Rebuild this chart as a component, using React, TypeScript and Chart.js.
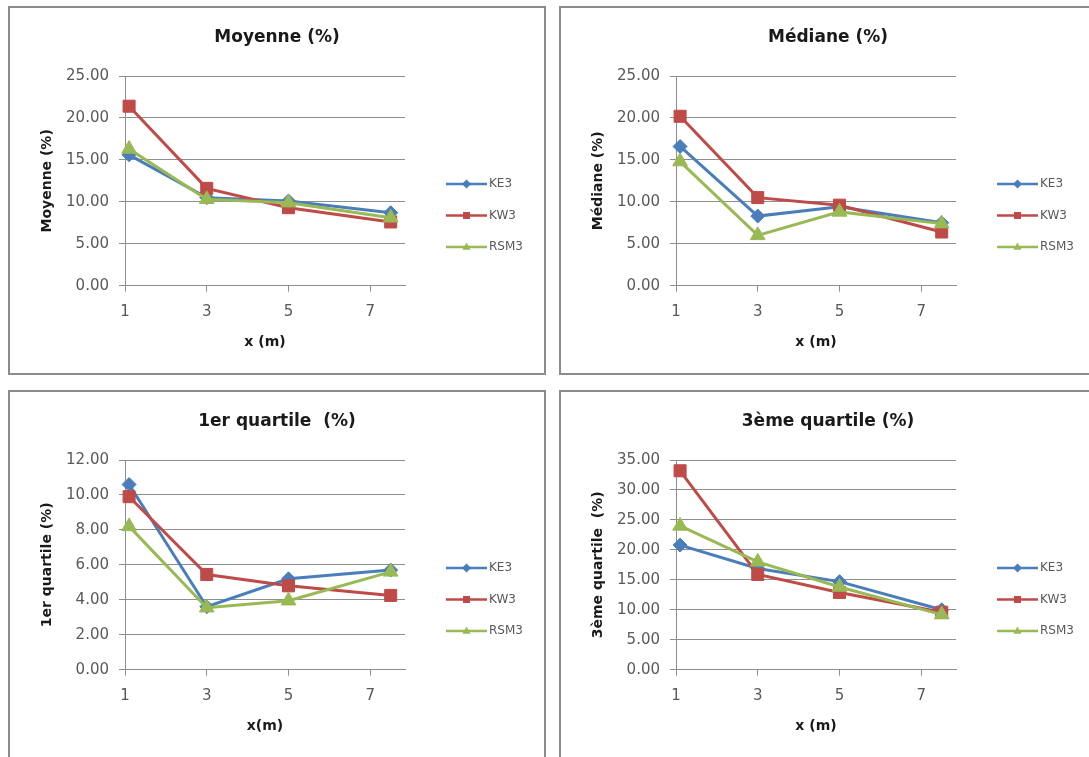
import React, { useEffect, useRef } from 'react';
import { Chart, registerables } from 'chart.js';

Chart.register(...registerables);

// ---- data ----
const xValues = [1.1, 3, 5, 7.5];
const xTickValues = [1, 3, 5, 7];
const seriesNames = ['KE3', 'KW3', 'RSM3'];

const moyenneKE3 = [15.6, 10.5, 10.1, 8.7];
const moyenneKW3 = [21.4, 11.6, 9.3, 7.6];
const moyenneRSM3 = [16.3, 10.3, 9.9, 8.1];

const medianeKE3 = [16.6, 8.3, 9.4, 7.5];
const medianeKW3 = [20.2, 10.5, 9.6, 6.4];
const medianeRSM3 = [14.8, 6.0, 8.8, 7.4];

const q1KE3 = [10.6, 3.6, 5.2, 5.7];
const q1KW3 = [9.9, 5.45, 4.8, 4.25];
const q1RSM3 = [8.2, 3.55, 3.95, 5.6];

const q3KE3 = [20.8, 16.9, 14.7, 10.0];
const q3KW3 = [33.2, 15.9, 12.9, 9.6];
const q3RSM3 = [24.0, 18.0, 13.8, 9.2];

// ---- styles ----
const seriesColors = ['#4A7EBB', '#BE4B48', '#98B954'];
const seriesMarkers = ['rectRot', 'rect', 'triangle'];
const markerRadius = [7, 8.5, 8.5];
const FONT = "'DejaVu Sans', sans-serif";
const GRID = '#8e8e8e';
const TICK_COLOR = '#595959';
const TITLE_COLOR = '#1a1a1a';

const CW = 534;
const CH = 365;

type PanelSpec = {
  title: string;
  yTitle: string;
  xTitle: string;
  yMax: number;
  yStep: number;
  series: number[][];
  left: number;
  top: number;
};

const panels: PanelSpec[] = [
  { title: 'Moyenne (%)', yTitle: 'Moyenne (%)', xTitle: 'x (m)', yMax: 25, yStep: 5, series: [moyenneKE3, moyenneKW3, moyenneRSM3], left: 8, top: 6 },
  { title: 'Médiane (%)', yTitle: 'Médiane (%)', xTitle: 'x (m)', yMax: 25, yStep: 5, series: [medianeKE3, medianeKW3, medianeRSM3], left: 559, top: 6 },
  { title: '1er quartile  (%)', yTitle: '1er quartile (%)', xTitle: 'x(m)', yMax: 12, yStep: 2, series: [q1KE3, q1KW3, q1RSM3], left: 8, top: 390 },
  { title: '3ème quartile (%)', yTitle: '3ème quartile  (%)', xTitle: 'x (m)', yMax: 35, yStep: 5, series: [q3KE3, q3KW3, q3RSM3], left: 559, top: 390 },
];

function drawMarker(ctx: CanvasRenderingContext2D, style: string, x: number, y: number, r: number) {
  ctx.beginPath();
  if (style === 'rect') {
    ctx.rect(x - r, y - r, 2 * r, 2 * r);
  } else if (style === 'rectRot') {
    ctx.moveTo(x, y - r);
    ctx.lineTo(x + r, y);
    ctx.lineTo(x, y + r);
    ctx.lineTo(x - r, y);
    ctx.closePath();
  } else {
    ctx.moveTo(x, y - r);
    ctx.lineTo(x + r * 0.9, y + r * 0.6);
    ctx.lineTo(x - r * 0.9, y + r * 0.6);
    ctx.closePath();
  }
  ctx.fill();
}

const panelDecor = {
  id: 'panelDecor',
  afterDraw(chart: any, _args: any, opts: any) {
    const ctx: CanvasRenderingContext2D = chart.ctx;
    ctx.save();
    ctx.font = `bold 17px ${FONT}`;
    ctx.fillStyle = TITLE_COLOR;
    ctx.textAlign = 'center';
    ctx.textBaseline = 'middle';
    ctx.fillText(opts.title, opts.titleX, opts.titleY);

    chart.data.datasets.forEach((ds: any, i: number) => {
      const y = opts.legendY + i * opts.legendGap;
      ctx.strokeStyle = seriesColors[i];
      ctx.lineWidth = 2.5;
      ctx.beginPath();
      ctx.moveTo(opts.legendX0, y);
      ctx.lineTo(opts.legendX1, y);
      ctx.stroke();
      ctx.fillStyle = seriesColors[i];
      const mx = (opts.legendX0 + opts.legendX1) / 2;
      const ms = seriesMarkers[i];
      drawMarker(ctx, ms, mx, y, ms === 'rect' ? 3.5 : 4.5);
      ctx.fillStyle = TICK_COLOR;
      ctx.font = `12px ${FONT}`;
      ctx.textAlign = 'left';
      ctx.textBaseline = 'middle';
      ctx.fillText(ds.label, opts.legendX1 + 2, y);
    });
    ctx.restore();
  },
};

function Panel({ spec }: { spec: PanelSpec }) {
  const ref = useRef<HTMLCanvasElement | null>(null);
  useEffect(() => {
    if (!ref.current) return;
    const datasets = spec.series.map((vals, i) => ({
      label: seriesNames[i],
      data: vals.map((v, j) => ({ x: xValues[j], y: v })),
      borderColor: seriesColors[i],
      backgroundColor: seriesColors[i],
      borderWidth: 3,
      pointStyle: seriesMarkers[i],
      pointRadius: markerRadius[i],
      pointBorderWidth: 1,
      pointBorderColor: seriesColors[i],
      pointBackgroundColor: seriesColors[i],
      tension: 0,
      order: 2 - i,
      clip: false,
    }));
    const chart = new Chart(ref.current, {
      type: 'line',
      data: { datasets },
      plugins: [panelDecor],
      options: {
        animation: false,
        responsive: false,
        devicePixelRatio: 1,
        layout: { padding: { left: 0, right: 139, top: 68, bottom: 0 } },
        plugins: {
          legend: { display: false },
          tooltip: { enabled: false },
          title: { display: false },
          panelDecor: {
            title: spec.title,
            titleX: 267,
            titleY: 30,
            legendX0: 436,
            legendX1: 477,
            legendY: 176,
            legendGap: 31.5,
          },
        } as any,
        scales: {
          x: {
            type: 'linear',
            min: 1,
            max: 7.85,
            afterBuildTicks: (s: any) => {
              s.ticks = xTickValues.map((v) => ({ value: v }));
            },
            afterFit: (s: any) => {
              s.height = 87.3;
            },
            grid: { display: true, drawOnChartArea: false, drawTicks: true, tickLength: 6, color: GRID, lineWidth: 1 },
            border: { display: true, color: GRID, width: 1 },
            ticks: {
              font: { family: FONT, size: 15 },
              color: TICK_COLOR,
              padding: 11,
              maxRotation: 0,
              autoSkip: false,
              callback: (v: any) => String(v),
            },
            title: {
              display: true,
              text: spec.xTitle,
              font: { family: FONT, size: 14, weight: 'bold' },
              color: TITLE_COLOR,
              padding: { top: 0, bottom: 22.6 },
            },
          },
          y: {
            min: 0,
            max: spec.yMax,
            afterFit: (s: any) => {
              s.width = 115;
            },
            grid: { color: GRID, lineWidth: 1, drawTicks: true, tickLength: 6 },
            border: { display: true, color: GRID, width: 1 },
            ticks: {
              stepSize: spec.yStep,
              font: { family: FONT, size: 15 },
              color: TICK_COLOR,
              padding: 10,
              callback: (v: any) => Number(v).toFixed(2),
            },
            title: {
              display: true,
              text: spec.yTitle,
              font: { family: FONT, size: 14, weight: 'bold' },
              color: TITLE_COLOR,
              padding: { top: 28.6, bottom: 0 },
            },
          },
        },
      } as any,
    });
    return () => chart.destroy();
  }, [spec]);

  return (
    <div
      style={{
        position: 'absolute',
        left: spec.left,
        top: spec.top,
        width: CW,
        height: CH,
        border: '2px solid #8c8c8c',
        background: '#fff',
      }}
    >
      <canvas ref={ref} width={CW} height={CH} style={{ display: 'block', width: CW, height: CH }} />
    </div>
  );
}

export default function App() {
  return (
    <div
      style={{
        position: 'fixed',
        left: 0,
        top: 0,
        width: 1089,
        height: 757,
        overflow: 'hidden',
        background: '#fff',
      }}
    >
      {panels.map((p, i) => (
        <Panel key={i} spec={p} />
      ))}
    </div>
  );
}
